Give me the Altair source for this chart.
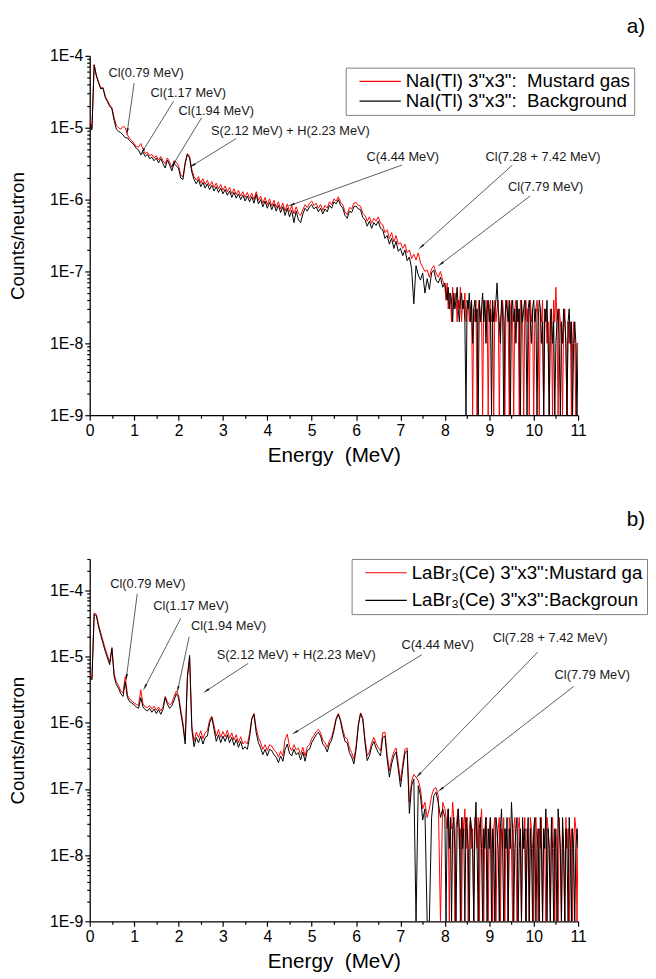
import math
import pandas as pd
import altair as alt

# channel energies (MeV): 0.05 MeV steps below 8 MeV, 0.025 MeV steps above
ENERGY = [round(i * 0.05, 2) for i in range(160)] + [round(8 + i * 0.025, 3) for i in range(121)]

# ---- panel a) NaI(Tl): log10(counts/neutron) ----
NAI_MUSTARD_LOG = [
    -4.90, -5.00, -4.12, -4.27, -4.36, -4.45, -4.44, -4.56, -4.62, -4.68, -4.72, -4.86, -4.97, -5.00, -5.02, -4.98, -5.00, -5.10, -5.15, -5.18,
    -5.22, -5.26, -5.27, -5.22, -5.30, -5.36, -5.34, -5.39, -5.37, -5.42, -5.39, -5.45, -5.40, -5.46, -5.50, -5.42, -5.48, -5.55, -5.46, -5.48,
    -5.53, -5.66, -5.68, -5.48, -5.36, -5.40, -5.58, -5.68, -5.73, -5.68, -5.77, -5.71, -5.79, -5.73, -5.81, -5.75, -5.83, -5.77, -5.85, -5.79,
    -5.87, -5.81, -5.89, -5.83, -5.92, -5.85, -5.93, -5.87, -5.95, -5.89, -5.97, -5.90, -5.98, -5.91, -6.00, -5.89, -6.01, -5.95, -6.05, -5.97,
    -6.07, -5.99, -6.09, -6.01, -6.11, -6.03, -6.13, -6.05, -6.16, -6.06, -6.17, -6.08, -6.20, -6.10, -6.19, -6.22, -6.14, -6.07, -6.11, -6.05,
    -6.02, -6.08, -6.05, -6.12, -6.07, -6.15, -6.08, -6.12, -6.03, -6.07, -5.99, -6.02, -5.96, -6.04, -6.07, -6.17, -6.21, -6.11, -6.13, -6.05,
    -6.04, -6.08, -6.09, -6.19, -6.22, -6.30, -6.24, -6.33, -6.26, -6.30, -6.24, -6.33, -6.35, -6.46, -6.42, -6.54, -6.46, -6.59, -6.50, -6.62,
    -6.60, -6.68, -6.62, -6.74, -6.70, -6.82, -6.76, -6.84, -6.74, -6.88, -6.94, -7.00, -6.98, -7.08, -6.96, -6.92, -7.02, -7.08, -7.00, -7.12,
    # 8.000 .. 11.000 (0.025 MeV)
    -7.22, -7.40, -7.16, -7.52, -7.30, -7.40, -7.70, -7.22, -7.52, -7.40, -7.30, -7.70, -7.40, -7.52, -7.22, -7.70, -7.40, -7.52, -7.30, -7.70,
    -7.52, -7.40, -7.70, -7.52, -7.40, -9.00, -7.52, -7.70, -7.40, -9.00, -7.52, -7.40, -7.70, -7.52, -9.00, -7.40, -7.52, -7.70, -7.40, -9.00,
    -7.52, -7.40, -7.70, -7.52, -9.00, -7.40, -7.70, -7.52, -7.40, -9.00, -7.70, -7.52, -7.40, -7.70, -9.00, -7.52, -7.40, -7.70, -9.00, -7.52,
    -7.40, -7.70, -9.00, -7.52, -7.40, -7.70, -7.52, -9.00, -7.40, -7.52, -7.70, -9.00, -7.52, -7.40, -7.70, -7.52, -9.00, -7.40, -7.70, -7.52,
    -9.00, -7.70, -7.52, -7.40, -7.70, -9.00, -7.52, -7.70, -7.40, -9.00, -7.70, -7.52, -8.00, -7.70, -9.00, -7.52, -7.70, -9.00, -7.40, -7.70,
    -7.22, -7.70, -9.00, -7.52, -7.70, -8.00, -9.00, -7.70, -7.52, -8.00, -9.00, -7.70, -8.00, -7.70, -9.00, -8.00, -7.70, -8.00, -9.00, -8.00,
    -8.00,
]
NAI_BACKGROUND_LOG = [
    -4.93, -5.03, -4.13, -4.28, -4.38, -4.46, -4.45, -4.58, -4.64, -4.70, -4.74, -4.90, -5.02, -5.05, -5.07, -5.10, -5.14, -5.14, -5.18, -5.21,
    -5.24, -5.29, -5.31, -5.38, -5.34, -5.40, -5.37, -5.43, -5.41, -5.46, -5.42, -5.49, -5.43, -5.50, -5.56, -5.45, -5.52, -5.60, -5.50, -5.53,
    -5.56, -5.70, -5.72, -5.50, -5.37, -5.42, -5.62, -5.72, -5.78, -5.72, -5.82, -5.76, -5.84, -5.78, -5.86, -5.80, -5.88, -5.82, -5.90, -5.84,
    -5.92, -5.86, -5.94, -5.88, -5.97, -5.90, -5.98, -5.92, -6.00, -5.94, -6.02, -5.95, -6.03, -5.96, -6.05, -5.93, -6.06, -6.00, -6.10, -6.02,
    -6.12, -6.04, -6.14, -6.06, -6.16, -6.08, -6.18, -6.10, -6.22, -6.12, -6.24, -6.15, -6.32, -6.16, -6.28, -6.32, -6.20, -6.12, -6.16, -6.10,
    -6.07, -6.13, -6.10, -6.17, -6.12, -6.20, -6.13, -6.17, -6.08, -6.12, -6.03, -6.06, -6.00, -6.08, -6.12, -6.22, -6.26, -6.16, -6.18, -6.10,
    -6.09, -6.13, -6.14, -6.25, -6.28, -6.37, -6.30, -6.40, -6.32, -6.36, -6.30, -6.40, -6.42, -6.54, -6.50, -6.62, -6.54, -6.68, -6.58, -6.72,
    -6.68, -6.78, -6.70, -6.85, -6.80, -6.96, -7.45, -6.92, -7.05, -7.12, -7.02, -7.30, -7.10, -7.25, -7.02, -6.98, -7.12, -7.16, -7.08, -7.22,
    # 8.000 .. 11.000 (0.025 MeV)
    -7.16, -7.30, -7.40, -7.22, -7.52, -7.30, -7.40, -7.70, -7.30, -7.52, -7.40, -7.22, -7.52, -7.70, -7.40, -7.30, -7.52, -7.40, -7.70, -9.00,
    -7.40, -7.52, -7.30, -7.70, -7.40, -8.00, -7.52, -7.40, -7.70, -7.52, -9.00, -7.40, -7.70, -7.52, -7.30, -7.70, -7.40, -8.00, -7.52, -7.40,
    -7.70, -7.52, -9.00, -7.40, -7.70, -7.52, -7.40, -7.16, -7.52, -7.70, -8.00, -7.40, -7.52, -9.00, -7.70, -7.40, -7.52, -7.70, -7.40, -9.00,
    -7.52, -7.40, -7.70, -7.52, -8.00, -7.40, -7.70, -7.52, -9.00, -7.40, -7.70, -7.52, -7.40, -7.70, -9.00, -7.52, -7.40, -7.70, -8.00, -7.52,
    -7.40, -7.70, -7.52, -9.00, -7.70, -7.40, -7.52, -8.00, -7.70, -9.00, -7.52, -7.70, -7.40, -8.00, -9.00, -7.70, -7.52, -8.00, -7.70, -9.00,
    -8.00, -7.70, -7.52, -8.00, -9.00, -7.70, -8.00, -7.52, -7.70, -8.00, -9.00, -7.70, -7.52, -8.00, -7.70, -9.00, -8.00, -7.70, -8.00, -9.00,
    -8.00,
]

# ---- panel b) LaBr3(Ce) ----
LABR_MUSTARD_LOG = [
    -5.27, -5.32, -4.34, -4.36, -4.52, -4.64, -4.76, -4.88, -4.98, -5.08, -4.86, -5.26, -5.38, -5.44, -5.52, -5.55, -5.30, -5.58, -5.64, -5.67,
    -5.70, -5.72, -5.74, -5.50, -5.71, -5.76, -5.77, -5.74, -5.79, -5.75, -5.81, -5.76, -5.82, -5.76, -5.60, -5.68, -5.73, -5.70, -5.60, -5.52,
    -5.58, -5.80, -6.00, -6.26, -5.32, -5.02, -6.04, -6.28, -6.14, -6.22, -6.12, -6.24, -6.15, -6.12, -5.96, -5.90, -6.04, -6.20, -6.10, -6.22,
    -6.13, -6.21, -6.11, -6.23, -6.15, -6.26, -6.18, -6.30, -6.21, -6.32, -6.28, -6.32, -6.16, -5.93, -5.86, -6.08, -6.22, -6.30, -6.40, -6.33,
    -6.42, -6.33, -6.35, -6.41, -6.44, -6.52, -6.43, -6.50, -6.25, -6.17, -6.36, -6.42, -6.33, -6.41, -6.38, -6.48, -6.37, -6.50, -6.36, -6.33,
    -6.24, -6.19, -6.13, -6.10, -6.15, -6.26, -6.30, -6.37, -6.27, -6.21, -6.08, -5.93, -5.86, -5.95, -6.10, -6.22, -6.24, -6.38, -6.45, -6.55,
    -6.35, -6.02, -5.85, -5.92, -6.24, -6.50, -6.44, -6.30, -6.22, -6.31, -6.38, -6.42, -6.15, -6.14, -6.48, -6.72, -6.55, -6.44, -6.38, -6.62,
    -6.88, -6.62, -6.40, -6.38, -7.20, -6.88, -6.78, -6.82, -6.87, -7.00, -7.30, -7.20, -7.43, -7.30, -7.10, -7.00, -6.98, -7.10, -9.00, -7.20,
    # 8.000 .. 11.000 (0.025 MeV)
    -7.30, -7.43, -7.60, -7.30, -9.00, -7.43, -7.60, -7.20, -7.43, -9.00, -7.60, -7.43, -7.30, -7.90, -7.60, -9.00, -7.43, -7.60, -7.30, -7.90,
    -7.43, -9.00, -7.60, -7.43, -7.90, -7.60, -9.00, -7.43, -7.60, -7.90, -7.43, -9.00, -7.60, -7.30, -7.90, -9.00, -7.60, -7.43, -7.90, -9.00,
    -7.60, -7.43, -7.90, -9.00, -7.60, -7.43, -9.00, -7.90, -7.60, -7.43, -9.00, -7.60, -7.90, -7.43, -9.00, -7.60, -7.90, -9.00, -7.43, -7.60,
    -7.90, -9.00, -7.60, -7.43, -7.90, -9.00, -7.60, -7.43, -7.90, -9.00, -7.60, -7.90, -7.43, -9.00, -7.60, -7.90, -9.00, -7.43, -7.60, -7.90,
    -9.00, -7.60, -7.43, -7.90, -9.00, -7.60, -7.90, -7.43, -9.00, -7.60, -7.90, -9.00, -7.43, -7.60, -7.90, -9.00, -7.60, -7.43, -7.90, -9.00,
    -7.60, -7.90, -9.00, -7.43, -7.90, -9.00, -7.60, -7.90, -9.00, -7.43, -7.90, -7.60, -9.00, -7.90, -7.60, -9.00, -7.90, -7.43, -7.60, -9.00,
    -7.60,
]
LABR_BACKGROUND_LOG = [
    -5.30, -5.35, -4.36, -4.38, -4.55, -4.68, -4.80, -4.92, -5.02, -5.12, -4.88, -5.30, -5.42, -5.48, -5.56, -5.60, -5.38, -5.62, -5.68, -5.70,
    -5.73, -5.76, -5.78, -5.62, -5.76, -5.80, -5.82, -5.78, -5.84, -5.79, -5.86, -5.80, -5.87, -5.80, -5.62, -5.72, -5.78, -5.74, -5.66, -5.56,
    -5.62, -5.85, -6.05, -6.32, -5.30, -4.98, -6.10, -6.36, -6.22, -6.30, -6.20, -6.32, -6.22, -6.20, -6.00, -5.92, -6.10, -6.28, -6.18, -6.30,
    -6.20, -6.28, -6.18, -6.30, -6.22, -6.34, -6.25, -6.37, -6.28, -6.40, -6.36, -6.40, -6.22, -5.95, -5.87, -6.15, -6.30, -6.38, -6.48, -6.40,
    -6.50, -6.40, -6.42, -6.48, -6.52, -6.60, -6.50, -6.58, -6.40, -6.32, -6.46, -6.50, -6.40, -6.48, -6.45, -6.56, -6.44, -6.58, -6.42, -6.40,
    -6.30, -6.24, -6.18, -6.14, -6.20, -6.32, -6.36, -6.44, -6.32, -6.26, -6.12, -5.95, -5.87, -5.98, -6.15, -6.28, -6.30, -6.45, -6.52, -6.62,
    -6.40, -6.05, -5.86, -5.95, -6.30, -6.57, -6.50, -6.36, -6.28, -6.38, -6.45, -6.50, -6.22, -6.20, -6.55, -6.82, -6.62, -6.50, -6.44, -6.70,
    -6.97, -6.70, -6.45, -6.42, -7.37, -6.95, -6.85, -9.00, -6.95, -7.10, -7.47, -7.30, -9.00, -9.00, -7.43, -7.10, -7.05, -7.20, -7.43, -7.30,
    # 8.000 .. 11.000 (0.025 MeV)
    -7.43, -9.00, -7.60, -7.30, -7.90, -7.43, -9.00, -7.60, -7.43, -7.90, -9.00, -7.60, -7.30, -7.60, -9.00, -7.43, -7.90, -7.60, -9.00, -7.43,
    -7.60, -7.90, -9.00, -7.43, -7.60, -7.90, -9.00, -7.60, -7.20, -7.90, -9.00, -7.60, -7.43, -7.90, -9.00, -7.60, -7.90, -7.43, -9.00, -7.60,
    -7.90, -7.43, -9.00, -7.60, -7.90, -9.00, -7.43, -7.60, -7.90, -9.00, -7.60, -7.30, -7.90, -9.00, -7.60, -7.90, -7.43, -9.00, -7.60, -7.90,
    -7.20, -7.60, -9.00, -7.90, -7.60, -7.43, -9.00, -7.90, -7.60, -9.00, -7.43, -7.90, -7.60, -9.00, -7.90, -7.43, -9.00, -7.60, -7.90, -9.00,
    -7.60, -7.43, -9.00, -7.90, -7.60, -9.00, -7.43, -7.90, -9.00, -7.60, -7.90, -7.30, -9.00, -7.60, -7.90, -9.00, -7.43, -7.90, -9.00, -7.60,
    -7.90, -9.00, -7.30, -7.60, -7.90, -9.00, -7.43, -7.90, -9.00, -7.60, -7.90, -9.00, -7.43, -7.90, -9.00, -7.60, -7.90, -9.00, -7.90, -7.60,
    -7.90,
]

for _name, _arr in [("NAI_MUSTARD_LOG", NAI_MUSTARD_LOG), ("NAI_BACKGROUND_LOG", NAI_BACKGROUND_LOG),
                    ("LABR_MUSTARD_LOG", LABR_MUSTARD_LOG), ("LABR_BACKGROUND_LOG", LABR_BACKGROUND_LOG)]:
    if len(_arr) != len(ENERGY):
        raise SystemExit(f"{_name} has {len(_arr)} values, expected {len(ENERGY)}")

# ---- annotations ----
ANN_LABELS = ["Cl(0.79 MeV)", "Cl(1.17 MeV)", "Cl(1.94 MeV)", "S(2.12 MeV) + H(2.23 MeV)",
              "C(4.44 MeV)", "Cl(7.28 + 7.42 MeV)", "Cl(7.79 MeV)"]
# panel a
A_TEXT_E = [1.27, 2.22, 2.85, 4.52, 7.05, 10.21, 10.27]
A_TEXT_LOG = [-4.24, -4.52, -4.77, -5.04, -5.41, -5.41, -5.82]
A_START_E = [1.00, 1.89, 2.52, 3.30, 7.03, 9.52, 9.92]
A_START_LOG = [-4.38, -4.63, -4.86, -5.15, -5.52, -5.52, -5.95]
A_TIP_E = [0.85, 1.20, 1.89, 2.33, 4.56, 7.48, 7.92]
A_TIP_LOG = [-5.04, -5.32, -5.50, -5.52, -6.07, -6.65, -6.89]
# panel b
B_TEXT_E = [1.31, 2.28, 3.13, 4.65, 7.84, 10.37, 11.32]
B_TEXT_LOG = [-3.90, -4.24, -4.54, -4.97, -4.82, -4.72, -5.27]
B_START_E = [1.07, 2.05, 2.24, 3.57, 7.48, 10.09, 10.90]
B_START_LOG = [-4.05, -4.42, -4.70, -5.10, -4.97, -4.93, -5.45]
B_TIP_E = [0.83, 1.25, 1.99, 2.64, 4.64, 7.42, 7.92]
B_TIP_LOG = [-5.30, -5.45, -5.48, -5.51, -6.14, -6.78, -7.00]

NAI_LABELS = ['NaI(Tl) 3"x3":\u00a0 Mustard gas', 'NaI(Tl) 3"x3":\u00a0 Background']
LABR_LABELS = ['LaBr\u2083(Ce) 3"x3":Mustard gas', 'LaBr\u2083(Ce) 3"x3":Background']

FONT = "Liberation Sans"
W = 496
XMAX = 11.0


def x_axis():
    return alt.Axis(
        values=[i * 0.5 for i in range(23)],
        labelExpr="datum.value % 1 == 0 ? format(datum.value, 'd') : ''",
        tickSize={"condition": {"test": "datum.value % 1 != 0", "value": 3}, "value": 5},
        grid=False, labelFontSize=16, titleFontSize=21, labelFont=FONT, titleFont=FONT,
        titleFontWeight="normal", labelColor="black", titleColor="black",
        domainColor="black", tickColor="black", domainWidth=1.3, tickWidth=1.2,
        labelPadding=3, titlePadding=6, labelOverlap=False, labelFlush=False,
    )


def y_axis(top_exp, extra):
    vals = []
    for e in range(-9, top_exp):
        for m in range(1, 10):
            vals.append(m * 10.0 ** e)
    vals.append(10.0 ** top_exp)
    vals += extra
    is_major = "abs(log(datum.value)/LN10 - round(log(datum.value)/LN10)) < 0.001"
    return alt.Axis(
        values=vals,
        labelExpr=f"{is_major} ? '1E' + round(log(datum.value)/LN10) : ''",
        tickSize={"condition": {"test": f"!({is_major})", "value": 3}, "value": 5},
        grid=False, labelFontSize=16, titleFontSize=19, labelFont=FONT, titleFont=FONT,
        titleFontWeight="normal", labelColor="black", titleColor="black",
        domainColor="black", tickColor="black", domainWidth=1.3, tickWidth=1.2,
        labelPadding=2, titlePadding=22, labelOverlap=False, labelFlush=False,
    )


def panel(red_log, black_log, labels, ymax, height, ann, legend_xy, row_pad, title, title_offset,
          label_expr="datum.label"):
    ylog_top = math.log10(ymax)
    xs = alt.Scale(domain=[0, XMAX], nice=False, zero=False)
    ys = alt.Scale(type="log", domain=[1e-9, ymax], nice=False)
    xax = x_axis()
    top_exp = int(math.floor(ylog_top + 1e-9))
    extra = [m * 10.0 ** top_exp for m in range(2, 10) if m * 10.0 ** top_exp <= ymax * 1.0001]
    yax = y_axis(top_exp, extra)
    xt = "Energy\u00a0\u00a0(MeV)"
    yt = "Counts/neutron"
    color = alt.Color(
        "series:N",
        scale=alt.Scale(domain=labels, range=["#ff0000", "#000000"]),
        legend=alt.Legend(
            title=None, orient="none", legendX=legend_xy[0], legendY=legend_xy[1],
            symbolType="stroke", symbolSize=1764, symbolStrokeWidth=1.2, clipHeight=20,
            labelFontSize=19, labelFont=FONT, labelColor="black", labelLimit=600,
            labelExpr=label_expr,
            strokeColor="#808080", fillColor="white", padding=4, rowPadding=row_pad,
            symbolOffset=9, labelOffset=4,
        ),
    )
    df_red = pd.DataFrame({"E": ENERGY, "v": [10 ** v for v in red_log], "series": labels[0]})
    df_black = pd.DataFrame({"E": ENERGY, "v": [10 ** v for v in black_log], "series": labels[1]})

    def line(df):
        return alt.Chart(df).mark_line(strokeWidth=1, clip=True).encode(
            x=alt.X("E:Q", scale=xs, axis=xax, title=xt),
            y=alt.Y("v:Q", scale=ys, axis=yax, title=yt),
            color=color,
        )

    te, tl, se, sl, ee, el = ann
    span = ylog_top - (-9)
    angles = []
    for i in range(len(ANN_LABELS)):
        dx = (ee[i] - se[i]) * W / XMAX
        dy = -(el[i] - sl[i]) * height / span
        angles.append(math.degrees(math.atan2(dx, -dy)) % 360)
    adf = pd.DataFrame({
        "label": ANN_LABELS,
        "tx": te, "tv": [10 ** v for v in tl],
        "sx": se, "sv": [10 ** v for v in sl],
        "ex": ee, "ev": [10 ** v for v in el],
        "angle": angles,
    })
    rules = alt.Chart(adf).mark_rule(color="#333333", strokeWidth=0.8).encode(
        x=alt.X("sx:Q", scale=xs, axis=xax, title=xt),
        y=alt.Y("sv:Q", scale=ys, axis=yax, title=yt),
        x2="ex:Q", y2="ev:Q",
    )
    heads = alt.Chart(adf).mark_point(shape="wedge", filled=True, size=70, color="#111111", opacity=1).encode(
        x=alt.X("ex:Q", scale=xs, axis=xax, title=xt),
        y=alt.Y("ev:Q", scale=ys, axis=yax, title=yt),
        angle=alt.Angle("angle:Q", scale=None),
    )
    texts = alt.Chart(adf).mark_text(fontSize=13, font=FONT, color="#1a1a1a", align="center", baseline="middle").encode(
        x=alt.X("tx:Q", scale=xs, axis=xax, title=xt),
        y=alt.Y("tv:Q", scale=ys, axis=yax, title=yt),
        text="label:N",
    )
    return alt.layer(line(df_red), line(df_black), rules, heads, texts).properties(
        width=W, height=height,
        title=alt.TitleParams(title, anchor="end", frame="group", dx=68, fontSize=21, font=FONT,
                              fontWeight="normal", color="black", offset=title_offset),
    )


panel_a = panel(NAI_MUSTARD_LOG, NAI_BACKGROUND_LOG, NAI_LABELS, 1e-4, 365,
                (A_TEXT_E, A_TEXT_LOG, A_START_E, A_START_LOG, A_TIP_E, A_TIP_LOG),
                (260, 12), 0, "a)", 11)
# in the reference the LaBr3 legend runs past the right edge of the figure,
# so its last letter is not visible
panel_b = panel(LABR_MUSTARD_LOG, LABR_BACKGROUND_LOG, LABR_LABELS, 3e-4, 368,
                (B_TEXT_E, B_TEXT_LOG, B_START_E, B_START_LOG, B_TIP_E, B_TIP_LOG),
                (266, 0), 8, "b)", 21, label_expr="slice(datum.label, 0, -1)")

chart = alt.vconcat(panel_a, panel_b, spacing=43).resolve_scale(
    x="independent", y="independent", color="independent"
).resolve_legend(color="independent").properties(
    padding={"left": 0, "top": 0, "right": 0, "bottom": 0}
).configure_view(stroke="transparent")

chart.save("out.html", embed_options={"renderer": "svg", "actions": False})
